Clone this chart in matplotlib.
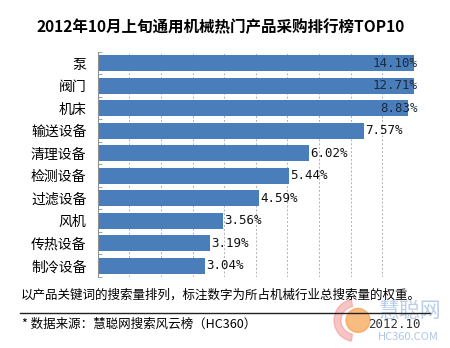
import numpy as np
import matplotlib.pyplot as plt
from matplotlib.patches import Circle, Wedge

plt.rcParams['font.family'] = ['Noto Sans CJK SC', 'DejaVu Sans']

# dados do ranking (de cima para baixo)
categorias = ['泵', '阀门', '机床', '输送设备', '清理设备', '检测设备',
              '过滤设备', '风机', '传热设备', '制冷设备']
valores = [14.10, 12.71, 8.83, 7.57, 6.02, 5.44, 4.59, 3.56, 3.19, 3.04]

titulo = '2012年10月上旬通用机械热门产品采购排行榜TOP10'
nota = '以产品关键词的搜索量排列，标注数字为所占机械行业总搜索量的权重。'
fonte = '* 数据来源：慧聪网搜索风云榜（HC360）'
data_txt = '2012.10'

x_max = 9.0
cor_barra = '#4a7ebb'

fig = plt.figure(figsize=(4.5, 3.48), dpi=100)
ax = fig.add_axes([0.217, 0.204, 0.703, 0.647])

y = np.arange(len(categorias))
ax.barh(y, valores, height=0.7, color=cor_barra, zorder=2)
ax.set_xlim(0, x_max)
ax.set_ylim(len(categorias) - 0.5, -0.5)

# rotulos de valor: fora da barra, mas presos dentro da area do grafico
for yi, v in zip(y, valores):
    txt = '%.2f%%' % v
    if v + 1.05 > x_max + 0.1:
        ax.text(x_max + 0.1, yi, txt, ha='right', va='center', fontsize=9,
                family=['DejaVu Sans Mono'], color='#1a2a40', zorder=3, clip_on=False)
    else:
        ax.text(v + 0.04, yi, txt, ha='left', va='center', fontsize=9,
                family=['DejaVu Sans Mono'], color='#111111', zorder=3)

# grade vertical tracejada
for g in np.arange(0, x_max + 0.01, 0.9)[1:]:
    ax.axvline(g, color='#b0b0b0', lw=0.7, ls=(0, (2, 2)), zorder=1)

ax.set_yticks(y)
ax.set_yticklabels(categorias, fontsize=10)
ax.set_yticks(np.arange(-0.5, len(categorias), 1), minor=True)
ax.tick_params(axis='y', which='major', length=0, pad=8)
ax.tick_params(axis='y', which='minor', length=3, direction='in', color='#909090')
ax.set_xticks([])
for s in ['top', 'right', 'bottom']:
    ax.spines[s].set_visible(False)
ax.spines['left'].set_color('#909090')
ax.spines['left'].set_linewidth(0.8)

fig.text(0.49, 0.922, titulo, ha='center', va='center', fontsize=11.2, fontweight='bold')

# marca d'agua
wm = fig.add_axes([0, 0, 1, 0.2])
wm.set_xlim(0, 450)
wm.set_ylim(69.6, 0)
wm.axis('off')
wm.add_patch(Wedge((355, 42), 21, 100, 260, width=7, color='#f08080', alpha=0.45))
wm.add_patch(Circle((358, 42), 12, color='#f6a04a', alpha=0.7))
wm.text(410, 33, '慧聪网', ha='center', va='center', fontsize=15, color='#9ab8e0', alpha=0.7)
wm.text(408, 59, 'HC360.COM', ha='center', va='center', fontsize=8,
        style='italic', color='#9ab8e0', alpha=0.8)

fig.text(0.046, 0.152, nota, ha='left', va='center', fontsize=9)
fig.add_artist(plt.Line2D([0.044, 0.955], [0.1006, 0.1006], color='#222222', lw=1))
fig.text(0.05, 0.068, fonte, ha='left', va='center', fontsize=9)
fig.text(0.935, 0.068, data_txt, ha='right', va='center', fontsize=9,
         family=['DejaVu Sans Mono'], color='#333333')

fig.savefig('out.png', dpi=100, facecolor='white')
